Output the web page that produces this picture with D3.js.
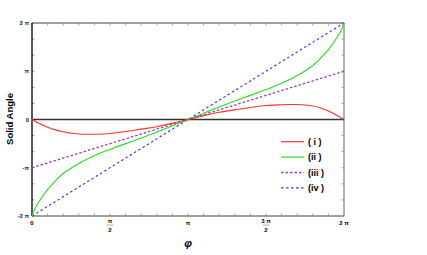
<!DOCTYPE html>
<html><head><meta charset="utf-8">
<script src="https://cdn.jsdelivr.net/npm/d3@7"></script>
<style>body{margin:0;background:#fff;} svg{display:block;font-family:"Liberation Sans",Arial,sans-serif;}</style>
</head><body>
<svg id="c" width="427" height="255"></svg>
<script>
// phi in units of pi, values in units of pi
const phiRed = [0,0.05,0.1,0.15,0.2,0.25,0.3,0.35,0.4,0.5,0.6,0.7,0.8,0.9,1.0,1.1,1.2,1.3,1.4,1.5,1.6,1.65,1.7,1.75,1.8,1.85,1.9,1.95,2.0];
const valRed = [0,-0.09,-0.16,-0.215,-0.255,-0.285,-0.3,-0.307,-0.305,-0.29,-0.25,-0.2,-0.15,-0.08,0,0.08,0.15,0.2,0.25,0.29,0.305,0.31,0.31,0.3,0.28,0.24,0.175,0.095,0];
const phiGreen = [0,0.01,0.025,0.05,0.1,0.15,0.2,0.3,0.4,0.5,0.6,0.7,0.8,0.9,1.0,1.1,1.2,1.3,1.4,1.5,1.6,1.7,1.8,1.85,1.9,1.95,1.975,1.99,2.0];
const valGreen = [-2,-1.91,-1.81,-1.68,-1.45,-1.27,-1.12,-0.91,-0.75,-0.62,-0.5,-0.385,-0.26,-0.13,0,0.13,0.26,0.385,0.5,0.62,0.75,0.91,1.12,1.27,1.45,1.68,1.81,1.91,2];
const phiLine = [0,2];
const valPurple = [-1,1];
const valBlue = [-2,2];
const legendLabels = ["( i )","(ii )","(iii )","(iv )"];

const svg = d3.select("#c");
const L=32,R=344,T=23,B=216;
const x = d3.scaleLinear().domain([0,2]).range([L,R]);
const y = d3.scaleLinear().domain([-2,2]).range([B,T]);

const g = svg.append("g");
// ticks
const xt = d3.range(0,2.0001,0.1);
const yt = d3.range(-2,2.0001,1/3);
const tickC="#888";
xt.forEach(v=>{
  g.append("line").attr("x1",x(v)).attr("x2",x(v)).attr("y1",B).attr("y2",B-2.5).attr("stroke",tickC).attr("stroke-width",0.8);
  g.append("line").attr("x1",x(v)).attr("x2",x(v)).attr("y1",T).attr("y2",T+2.5).attr("stroke",tickC).attr("stroke-width",0.8);
});
yt.forEach(v=>{
  g.append("line").attr("x1",L).attr("x2",L+2.5).attr("y1",y(v)).attr("y2",y(v)).attr("stroke",tickC).attr("stroke-width",0.8);
  g.append("line").attr("x1",R).attr("x2",R-2.5).attr("y1",y(v)).attr("y2",y(v)).attr("stroke",tickC).attr("stroke-width",0.8);
});
// frame
g.append("line").attr("x1",L).attr("x2",R).attr("y1",T).attr("y2",T).attr("stroke","#808080").attr("stroke-width",1.6);
g.append("line").attr("x1",L).attr("x2",R).attr("y1",B).attr("y2",B).attr("stroke","#808080").attr("stroke-width",1.6);
g.append("line").attr("x1",R).attr("x2",R).attr("y1",T).attr("y2",B).attr("stroke","#909090").attr("stroke-width",1.4);
g.append("line").attr("x1",L).attr("x2",L).attr("y1",T).attr("y2",B).attr("stroke","#000").attr("stroke-width",1.3);
// zero line
g.append("line").attr("x1",L).attr("x2",R).attr("y1",y(0)).attr("y2",y(0)).attr("stroke","#333").attr("stroke-width",1.4);

const line = d3.line().curve(d3.curveCatmullRom.alpha(0.5));
const mk=(px,py)=>px.map((p,i)=>[x(p),y(py[i])]);
g.append("path").attr("d",line(mk(phiLine,valPurple))).attr("fill","none").attr("stroke","#a040a8").attr("stroke-width",1.3).attr("stroke-dasharray","2.5,2");
g.append("path").attr("d",line(mk(phiLine,valBlue))).attr("fill","none").attr("stroke","#3030ff").attr("stroke-width",1.1).attr("stroke-dasharray","2.5,2.5");
g.append("path").attr("d",line(mk(phiGreen,valGreen))).attr("fill","none").attr("stroke","#22e022").attr("stroke-width",1.1);
g.append("path").attr("d",line(mk(phiRed,valRed))).attr("fill","none").attr("stroke","#ff3030").attr("stroke-width",1.1);

// tick labels
const fs=6;
const yl=[[2,"2 π"],[1,"π"],[0,"0"],[-1,"-π"],[-2,"-2 π"]];
yl.forEach(([v,t])=>g.append("text").attr("x",L-3).attr("y",y(v)+2).attr("text-anchor","end").attr("font-size",fs).attr("font-weight","bold").attr("fill","#222").text(t));
g.append("text").attr("x",x(0)).attr("y",225).attr("text-anchor","middle").attr("font-size",fs).attr("font-weight","bold").text("0");
g.append("text").attr("x",x(1)).attr("y",225).attr("text-anchor","middle").attr("font-size",fs).attr("font-weight","bold").text("π");
g.append("text").attr("x",x(2)).attr("y",225).attr("text-anchor","middle").attr("font-size",fs).attr("font-weight","bold").text("2 π");
[[0.5,"π"],[1.5,"3 π"]].forEach(([v,t])=>{
  g.append("text").attr("x",x(v)).attr("y",223).attr("text-anchor","middle").attr("font-size",fs).attr("font-weight","bold").text(t);
  g.append("line").attr("x1",x(v)-3.5).attr("x2",x(v)+3.5).attr("y1",225).attr("y2",225).attr("stroke","#666").attr("stroke-width",0.5);
  g.append("text").attr("x",x(v)).attr("y",232).attr("text-anchor","middle").attr("font-size",fs).attr("font-weight","bold").text("2");
});
// axis titles
svg.append("text").attr("transform","translate(13,119) rotate(-90)").attr("text-anchor","middle").attr("font-size",9.5).attr("font-weight","bold").text("Solid Angle");
svg.append("text").attr("x",x(1)).attr("y",247).attr("text-anchor","middle").attr("font-size",11).attr("font-weight","bold").attr("font-style","italic").text("φ");

// legend
const lc=[["#ff3030",null,1.2],["#22e022",null,1.2],["#a040a8","2.5,2",1.4],["#3030ff","2.5,2.5",1.1]];
legendLabels.forEach((t,i)=>{
  const yy=141.7+i*15.4;
  const l=g.append("line").attr("x1",281).attr("x2",304).attr("y1",yy).attr("y2",yy).attr("stroke",lc[i][0]).attr("stroke-width",lc[i][2]);
  if(lc[i][1]) l.attr("stroke-dasharray",lc[i][1]);
  g.append("text").attr("x",308).attr("y",yy+3.3).attr("font-size",9).attr("font-weight","bold").text(t);
});
</script>
</body></html>
